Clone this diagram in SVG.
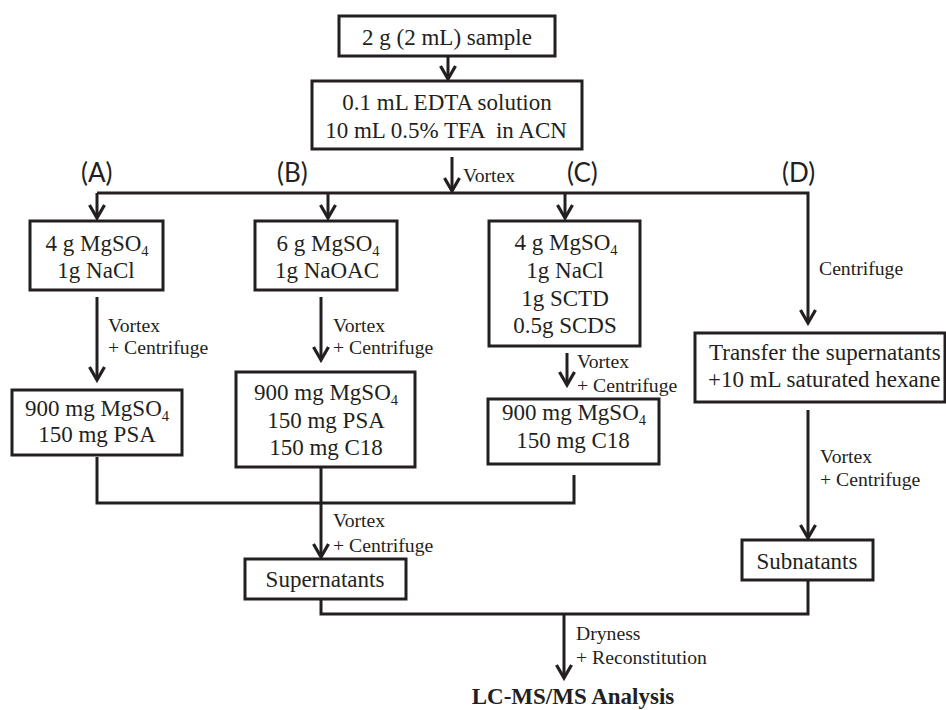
<svg xmlns="http://www.w3.org/2000/svg" width="946" height="710" viewBox="0 0 946 710">
<style>
.box{fill:#fff;stroke:#231f20;stroke-width:3}
.ln{fill:none;stroke:#231f20;stroke-width:3}
.t{font-family:"Liberation Serif","Times New Roman",serif;font-size:23px;fill:#231f20;text-anchor:middle}
.ts{font-family:"Liberation Serif","Times New Roman",serif;font-size:23px;fill:#231f20}
.s{font-family:"Liberation Serif","Times New Roman",serif;font-size:19.7px;fill:#231f20}
.lab{font-family:Lato,"Open Sans",sans-serif;font-size:26px;fill:#231f20}
.bold{font-weight:bold}
.sub{font-size:14.5px}
</style>
<defs>
<marker id="arr" viewBox="-16 -10 19 20" refX="0" refY="0" markerWidth="19" markerHeight="20" markerUnits="userSpaceOnUse" orient="auto">
<path d="M-13,-7.5 L0,0 L-13,7.5" fill="none" stroke="#231f20" stroke-width="3.2"/>
</marker>
</defs>
<rect width="946" height="710" fill="#fff"/>

<g id="connectors">
<path class="ln" d="M448,57 V79" marker-end="url(#arr)"/>
<path class="ln" d="M452,157 V191" marker-end="url(#arr)"/>
<path class="ln" d="M97,193 H808 V323" marker-end="url(#arr)"/>
<path class="ln" d="M97,193 V218" marker-end="url(#arr)"/>
<path class="ln" d="M328,193 V218" marker-end="url(#arr)"/>
<path class="ln" d="M565,193 V218" marker-end="url(#arr)"/>
<path class="ln" d="M97,297 V380" marker-end="url(#arr)"/>
<path class="ln" d="M321,297 V360" marker-end="url(#arr)"/>
<path class="ln" d="M567,353 V385" marker-end="url(#arr)"/>
<path class="ln" d="M97,457 V503 H574 V475"/>
<path class="ln" d="M321,468 V557" marker-end="url(#arr)"/>
<path class="ln" d="M321,600 V614 H808 V581"/>
<path class="ln" d="M564,614 V678" marker-end="url(#arr)"/>
<path class="ln" d="M808,410 V538" marker-end="url(#arr)"/>
<text class="s" x="463" y="182">Vortex</text>
<text class="lab" x="81" y="182">(A)</text>
<text class="lab" x="277" y="182">(B)</text>
<text class="lab" x="567" y="182">(C)</text>
<text class="lab" x="782" y="182">(D)</text>
<text class="s" x="819" y="275">Centrifuge</text>
<text class="s" x="108" y="332">Vortex</text>
<text class="s" x="108" y="354">+ Centrifuge</text>
<text class="s" x="333" y="332">Vortex</text>
<text class="s" x="333" y="354">+ Centrifuge</text>
<text class="s" x="577" y="368">Vortex</text>
<text class="s" x="577" y="392">+ Centrifuge</text>
<text class="s" x="333" y="527">Vortex</text>
<text class="s" x="333" y="552">+ Centrifuge</text>
<text class="s" x="820" y="463">Vortex</text>
<text class="s" x="820" y="486">+ Centrifuge</text>
<text class="s" x="576" y="640">Dryness</text>
<text class="s" x="576" y="664">+ Reconstitution</text>
</g>

<g id="sample">
<rect class="box" x="339" y="16" width="216" height="40"/>
<text class="t" x="447" y="45">2 g (2 mL) sample</text>
</g>
<g id="edta">
<rect class="box" x="312" y="81" width="270" height="68"/>
<text class="t" x="447" y="110">0.1 mL EDTA solution</text>
<text class="t" x="446" y="138" xml:space="preserve">10 mL 0.5% TFA  in ACN</text>
</g>
<g id="boxA">
<rect class="box" x="30" y="221" width="133" height="69"/>
<text class="t" x="97" y="251">4 g MgSO<tspan class="sub" dy="5">4</tspan></text>
<text class="t" x="96" y="278">1g NaCl</text>
</g>
<g id="boxB">
<rect class="box" x="255" y="221" width="142" height="69"/>
<text class="t" x="328" y="251">6 g MgSO<tspan class="sub" dy="5">4</tspan></text>
<text class="t" x="327" y="278">1g NaOAC</text>
</g>
<g id="boxC">
<rect class="box" x="489" y="221" width="151" height="125"/>
<text class="t" x="566" y="250">4 g MgSO<tspan class="sub" dy="5">4</tspan></text>
<text class="t" x="565" y="278">1g NaCl</text>
<text class="t" x="565" y="306">1g SCTD</text>
<text class="t" x="565" y="333">0.5g SCDS</text>
</g>
<g id="boxA2">
<rect class="box" x="12" y="390" width="170" height="65"/>
<text class="t" x="97" y="416">900 mg MgSO<tspan class="sub" dy="5">4</tspan></text>
<text class="t" x="97" y="442">150 mg PSA</text>
</g>
<g id="boxB2">
<rect class="box" x="236" y="372" width="179" height="95"/>
<text class="t" x="326" y="400">900 mg MgSO<tspan class="sub" dy="5">4</tspan></text>
<text class="t" x="326" y="428">150 mg PSA</text>
<text class="t" x="326" y="455">150 mg C18</text>
</g>
<g id="boxC2">
<rect class="box" x="488" y="399" width="171" height="65"/>
<text class="t" x="574" y="420">900 mg MgSO<tspan class="sub" dy="5">4</tspan></text>
<text class="t" x="573" y="448">150 mg C18</text>
</g>
<g id="boxD">
<rect class="box" x="695" y="333" width="250" height="69"/>
<text class="ts" x="709" y="360">Transfer the supernatants</text>
<text class="ts" x="708" y="387">+10 mL saturated hexane</text>
</g>
<g id="supernatants">
<rect class="box" x="245" y="559" width="161" height="40"/>
<text class="t" x="325" y="587">Supernatants</text>
</g>
<g id="subnatants">
<rect class="box" x="742" y="540" width="131" height="40"/>
<text class="t" x="807" y="569">Subnatants</text>
</g>
<g id="lcms">
<text class="t bold" x="573" y="704">LC-MS/MS Analysis</text>
</g>
</svg>
